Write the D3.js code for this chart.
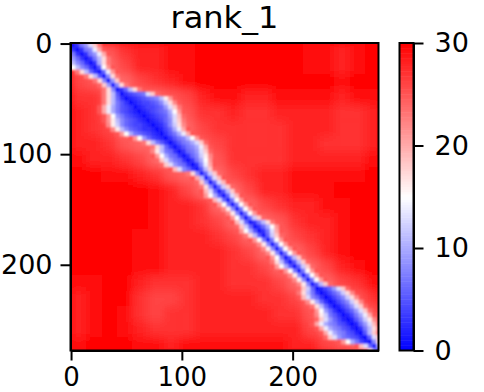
<!DOCTYPE html>
<html>
<head>
<meta charset="utf-8">
<style>
    body { margin: 0; background: #fff; }
    text { font-family: "DejaVu Sans"; fill: #000; }
</style>
<script src="https://cdn.jsdelivr.net/npm/d3@7"></script>
</head>
<body>
<div class="canvas"></div>
<script>
// Tick labels
const xTicks = [0, 100, 200];
const yTicks = [0, 100, 200];
const colorTicks = [0, 10, 20, 30];

// Size of the matrix and size of the cells
const residues = 278;
const farStep = 14;
const bandStep = 4;

// Values away from the diagonal, one row per 14 residues
const farRows = [
    [25,25,25,27,28,28,29,29,30,30,30,30,30,30,30,29,29,28,29,30],
    [25,25,24,26,28,28,29,29,30,30,30,30,30,30,30,29,29,28,29,30],
    [26,25,24,24,26,27,28,29,30,30,30,30,30,30,30,30,30,29,30,30],
    [27,27,25,24,24,24,25,26,28,29,29,28,28,29,29,29,29,28,29,29],
    [28,27,25,24,24,24,24,25,27,27,28,27,27,28,28,28,28,27,27,28],
    [28,27,26,24,24,24,24,24,26,27,27,27,27,27,28,28,28,27,27,28],
    [28,28,27,25,24,24,24,24,25,26,27,27,27,27,28,28,27,27,27,28],
    [29,28,28,27,26,24,24,24,24,25,27,27,27,27,28,28,28,28,28,29],
    [30,30,29,29,28,27,25,24,24,24,26,27,28,28,29,29,29,29,29,30],
    [30,30,30,30,30,29,28,26,24,24,24,26,28,28,29,29,29,30,30,30],
    [30,30,30,30,30,29,28,28,27,24,24,24,26,27,28,28,29,29,30,30],
    [30,30,30,30,30,29,28,28,27,26,24,24,24,25,27,28,28,29,30,30],
    [30,30,30,30,29,29,28,28,28,27,26,24,24,24,26,27,28,29,30,30],
    [30,30,30,30,29,29,28,28,28,28,27,26,24,24,24,26,28,29,30,30],
    [30,30,30,30,29,29,28,28,28,28,27,27,26,24,24,24,26,28,29,30],
    [29,29,30,30,28,27,27,27,28,28,27,27,27,26,24,24,24,26,27,29],
    [28,29,30,30,27,26,26,27,28,28,28,28,27,27,26,24,24,24,25,27],
    [28,29,30,29,27,26,27,27,28,28,28,28,28,27,27,25,24,24,24,25],
    [28,29,30,29,28,27,27,27,28,28,28,28,28,28,28,26,25,24,24,24],
    [29,30,30,30,29,29,28,29,29,29,29,29,29,29,28,28,26,25,24,24]
];

// Values from the diagonal going right, one row per 4 residues
const bandRight = [
    [1,3,7,9,13,18,23],
    [1,3,7,8,14,20,25],
    [1,3,7,9,14,20,25],
    [1,3,7,11,17,23],
    [1,3,10,17,23],
    [1,5,15,21,25],
    [1,6,14,21,25],
    [1,8,17,23],
    [1,9,18,24],
    [1,8,17,23],
    [1,3,6,11,17,23],
    [1,3,4,5,6,7,13,18,24],
    [1,2,3,4,5,6,7,8,11,16,21,25],
    [1,2,3,4,4,5,6,8,12,17,22,25],
    [1,2,3,4,4,5,6,9,13,18,23],
    [1,2,3,4,5,6,7,10,15,21,25],
    [1,2,3,4,5,6,9,13,19,24],
    [1,2,3,4,6,8,13,18,23],
    [1,2,3,5,8,12,17,22],
    [1,2,4,6,10,14,20,25],
    [1,3,5,7,10,14,20,25],
    [1,3,5,7,8,11,15,21,25],
    [1,3,5,7,8,10,13,18,24],
    [1,3,5,7,8,10,14,20,25],
    [1,3,6,7,9,13,18,24],
    [1,3,6,8,12,16,22],
    [1,3,7,10,15,21,25],
    [1,3,8,14,20,25],
    [1,5,11,18,24],
    [1,6,12,18,24],
    [1,6,13,19,25],
    [1,6,13,19,25],
    [1,6,12,18,24],
    [1,5,11,18,24],
    [1,6,13,19,25],
    [1,7,15,21,25],
    [1,7,15,21,25],
    [1,7,15,21,25],
    [1,7,15,21,25],
    [1,6,12,18,24],
    [1,3,7,11,17,23],
    [1,3,6,10,15,21,25],
    [1,3,7,13,20,25],
    [1,6,12,18,24],
    [1,7,15,21,25],
    [1,7,15,21,25],
    [1,7,15,21,25],
    [1,7,15,21,25],
    [1,5,11,18,24],
    [1,5,11,18,24],
    [1,6,12,18,24],
    [1,7,15,21,25],
    [1,7,15,21,25],
    [1,7,15,21,25],
    [1,5,11,18,24],
    [1,2,4,6,9,13,18,24],
    [1,2,4,6,8,12,17,22],
    [1,2,4,6,8,12,17,22],
    [1,2,4,6,8,12,17,22],
    [1,2,4,6,9,13,18,24],
    [1,2,4,6,9,13,18,24],
    [1,2,4,7,10,14,20,25],
    [1,2,5,8,12,16,22],
    [1,2,6,9,13,19,25],
    [1,3,7,11,17,23],
    [1,5,11,18,24],
    [1,6,13,19,25],
    [1,8,17,23],
    [1,10,20],
    [1]
];

// Values from the diagonal going left, one row per 4 residues
const bandLeft = [
    [],
    [3],
    [3,7],
    [3,6,9],
    [3,6,8,11],
    [3,6,8,11,15],
    [3,6,11,17,23],
    [5,11,17,23],
    [8,17,23],
    [9,18,24],
    [8,17,23],
    [5,11,17,23],
    [3,6,11,17,23],
    [3,5,7,11,17,23],
    [3,4,5,7,10,14,20,25],
    [2,3,4,5,7,10,14,20,25],
    [2,3,4,5,7,9,15,21,25],
    [2,3,4,5,6,8,11,16,21,25],
    [2,3,4,4,5,6,8,12,16,22],
    [2,3,3,4,5,6,8,11,16,22],
    [2,3,4,5,6,7,10,15,21,25],
    [2,3,4,6,9,15,21,25],
    [3,5,7,11,17,23],
    [3,6,11,17,23],
    [3,6,7,11,16,22],
    [3,6,7,10,15,21,25],
    [3,6,7,9,13,18,24],
    [3,6,7,9,13,18,24],
    [3,6,8,13,19,25],
    [8,17,23],
    [11,20,25],
    [9,18,24],
    [8,17,23],
    [6,13,19,25],
    [5,10,15,21,25],
    [6,13,19,25],
    [7,15,21,25],
    [8,16,22],
    [8,16,22],
    [7,15,21,25],
    [6,13,19,25],
    [6,12,18,24],
    [5,10,15,21,25],
    [5,11,17,23],
    [7,15,21,25],
    [8,16,22],
    [8,16,22],
    [8,16,22],
    [7,15,21,25],
    [5,11,17,23],
    [5,10,15,21,25],
    [7,15,21,25],
    [8,16,22],
    [8,16,22],
    [8,16,22],
    [6,12,18,24],
    [3,7,11,17,23],
    [3,6,8,13,19,25],
    [3,6,10,16,22],
    [3,6,11,17,23],
    [3,6,9,15,21,25],
    [3,5,7,12,16,22],
    [2,4,6,9,13,18,24],
    [2,4,5,7,8,10,14,20,25],
    [2,4,5,7,8,10,14,20,25],
    [2,4,5,7,8,10,14,20,25],
    [2,4,5,6,7,9,13,18,24],
    [2,4,7,10,15,21,25],
    [6,13,19,25],
    [8,17,23]
];

const svg = d3.select('.canvas')
    .append('svg')
        .attr('width', 484)
        .attr('height', 392)
        .style('display', 'block');

// Plot area and colorbar position
const plot = { left: 70.5, right: 378.5, top: 43, bottom: 350.5 };
const bar = { left: 399.5, right: 413.5, top: 43, bottom: 350.5 };

const x = d3.scaleLinear().domain([-0.5, residues - 0.5]).range([plot.left, plot.right]);
const y = d3.scaleLinear().domain([-0.5, residues - 0.5]).range([plot.top, plot.bottom]);
const barY = d3.scaleLinear().domain([0, 30]).range([bar.bottom, bar.top]);

// bwr colormap
const color = d3.scaleLinear()
    .domain([0, 15, 30])
    .range(['#0000ff', '#ffffff', '#ff0000'])
    .clamp(true);

// Turn the rows into flat lists of cells
const farCells = farRows.flatMap((row, r) => row.map((value, c) => ({ r, c, value })));
const bandCells = bandRight.flatMap((row, r) => row.map((value, k) => ({ r, c: r + k, value })))
    .concat(bandLeft.flatMap((row, r) => row.map((value, k) => ({ r, c: r - k - 1, value }))))
    .filter(d => d.c >= 0);

const defs = svg.append('defs');
defs.append('clipPath')
    .attr('id', 'plot-clip')
    .append('rect')
        .attr('x', plot.left)
        .attr('y', plot.top)
        .attr('width', plot.right - plot.left)
        .attr('height', plot.bottom - plot.top);

const addBlur = (id, amount) => defs.append('filter')
    .attr('id', id)
    .attr('filterUnits', 'userSpaceOnUse')
    .attr('x', 0).attr('y', 0).attr('width', 484).attr('height', 392)
    .append('feGaussianBlur')
        .attr('stdDeviation', amount);

addBlur('far-blur', 5);
addBlur('band-blur', 1.1);

const image = svg.append('g').attr('clip-path', 'url(#plot-clip)');

image.append('rect')
    .attr('x', plot.left)
    .attr('y', plot.top)
    .attr('width', plot.right - plot.left)
    .attr('height', plot.bottom - plot.top)
    .attr('fill', color(30));

const drawCells = (cells, step, blur) => image.append('g')
    .attr('filter', `url(#${blur})`)
    .selectAll('rect')
    .data(cells)
    .enter()
    .append('rect')
        .attr('x', d => x(d.c * step - 0.5))
        .attr('y', d => y(d.r * step - 0.5))
        .attr('width', x(step) - x(0) + 0.5)
        .attr('height', y(step) - y(0) + 0.5)
        .attr('fill', d => color(d.value));

drawCells(farCells, farStep, 'far-blur');
drawCells(bandCells, bandStep, 'band-blur');

// Frame and axes
const styleAxis = (group, size) => {
    group.selectAll('.domain').attr('stroke', '#000').attr('stroke-width', 2);
    group.selectAll('.tick line').attr('stroke', '#000').attr('stroke-width', 2);
    group.selectAll('.tick text').style('font-size', size + 'px').style('font-family', '"DejaVu Sans"');
};

const xAxis = d3.axisBottom(x).tickValues(xTicks).tickSize(10).tickPadding(7).tickSizeOuter(0);
const yAxis = d3.axisLeft(y).tickValues(yTicks).tickSize(10).tickPadding(8).tickSizeOuter(0);

const xAxisGroup = svg.append('g').attr('transform', `translate(0, ${plot.bottom})`).call(xAxis);
const yAxisGroup = svg.append('g').attr('transform', `translate(${plot.left}, 0)`).call(yAxis);
styleAxis(xAxisGroup, 26);
styleAxis(yAxisGroup, 27);

svg.append('rect')
    .attr('x', plot.left)
    .attr('y', plot.top)
    .attr('width', plot.right - plot.left)
    .attr('height', plot.bottom - plot.top)
    .attr('fill', 'none')
    .attr('stroke', '#000')
    .attr('stroke-width', 2);

svg.append('text')
    .attr('text-anchor', 'middle')
    .attr('x', (plot.left + plot.right) / 2)
    .attr('y', 28)
    .attr('textLength', 108)
    .attr('lengthAdjust', 'spacingAndGlyphs')
    .text('rank_1')
    .style('font-size', '30px');

// Colorbar
const barStrip = d3.range(0, 30, 0.25);
svg.append('g')
    .selectAll('rect')
    .data(barStrip)
    .enter()
    .append('rect')
        .attr('x', bar.left)
        .attr('y', d => barY(d + 0.25))
        .attr('width', bar.right - bar.left)
        .attr('height', barY(0) - barY(0.25) + 0.5)
        .attr('fill', d => color(d + 0.125));

const barAxis = d3.axisRight(barY).tickValues(colorTicks).tickSize(10).tickPadding(11).tickSizeOuter(0);
const barAxisGroup = svg.append('g').attr('transform', `translate(${bar.right}, 0)`).call(barAxis);
styleAxis(barAxisGroup, 27);

svg.append('rect')
    .attr('x', bar.left)
    .attr('y', bar.top)
    .attr('width', bar.right - bar.left)
    .attr('height', bar.bottom - bar.top)
    .attr('fill', 'none')
    .attr('stroke', '#000')
    .attr('stroke-width', 2);
</script>
</body>
</html>
